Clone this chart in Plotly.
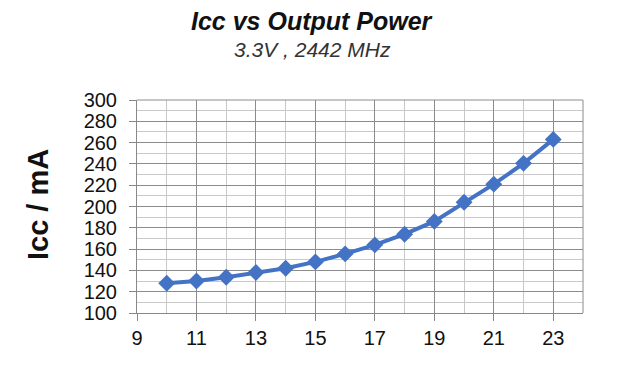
import plotly.graph_objects as go

power_dbm = [10, 11, 12, 13, 14, 15, 16, 17, 18, 19, 20, 21, 22, 23]
icc_ma = [128, 130, 133.5, 138, 142, 148, 155.5, 164, 174, 186, 204, 221, 240.5, 263]
x_ticks = [9, 11, 13, 15, 17, 19, 21, 23]
y_ticks = [100, 120, 140, 160, 180, 200, 220, 240, 260, 280, 300]

# page has an 8px body margin, so the figure is drawn 8px smaller
W, H = 615, 358
L, R, T, B = 129, 40, 92, 53
PW, PH = W - L - R, H - T - B


def px(x):
    return (x - L) / PW


def py(y):
    return (H - B - y) / PH


fig = go.Figure()
fig.add_trace(go.Scatter(
    x=power_dbm, y=icc_ma, mode="lines+markers",
    line=dict(color="#4472C4", width=4),
    marker=dict(symbol="diamond", size=13, color="#4472C4"),
    showlegend=False,
))

font = "Liberation Sans, Arial, sans-serif"
fig.update_layout(
    width=W, height=H,
    margin=dict(l=L, r=R, t=T, b=B),
    paper_bgcolor="white", plot_bgcolor="white",
    font=dict(family=font, color="#000"),
    xaxis=dict(
        range=[9, 24], tickvals=x_ticks, ticks="outside", ticklen=7,
        tickcolor="#888", tickfont=dict(size=20, color="#111"),
        showline=True, linecolor="#888", linewidth=1, mirror=False,
        showgrid=True, gridcolor="#8c8c8c", gridwidth=1,
        minor=dict(dtick=1, tick0=9, showgrid=True, gridcolor="#c8c8c8", gridwidth=1),
        zeroline=False,
    ),
    yaxis=dict(
        range=[100, 300], tickvals=y_ticks, ticks="outside", ticklen=7,
        ticklabelstandoff=8,
        tickcolor="#888", tickfont=dict(size=20, color="#111"),
        showline=True, linecolor="#888", linewidth=1,
        showgrid=True, gridcolor="#8c8c8c", gridwidth=1,
        minor=dict(dtick=10, tick0=100, showgrid=True, gridcolor="#c8c8c8", gridwidth=1),
        zeroline=False,
    ),
    shapes=[
        dict(type="line", xref="paper", yref="paper", x0=0, x1=1, y0=1, y1=1,
             line=dict(color="#8c8c8c", width=1)),
        dict(type="line", xref="paper", yref="paper", x0=1, x1=1, y0=0, y1=1,
             line=dict(color="#8c8c8c", width=1)),
    ],
    annotations=[
        dict(text="<b><i>Icc vs Output Power</i></b>", xref="paper", yref="paper",
             x=px(304), y=py(13),
             xanchor="center", yanchor="middle", showarrow=False,
             font=dict(size=25, family=font, color="#111")),
        dict(text="<i>3.3V , 2442 MHz</i>", xref="paper", yref="paper",
             x=px(304), y=py(42),
             xanchor="center", yanchor="middle", showarrow=False,
             font=dict(size=21, family=font, color="#333")),
        dict(text="<b>Icc / mA</b>", xref="paper", yref="paper",
             x=px(30), y=py(197),
             xanchor="center", yanchor="middle", textangle=-90, showarrow=False,
             font=dict(size=29, family=font, color="#111")),
        dict(text="<b>Output Power / dBm</b>", xref="paper", yref="paper",
             x=px(286), y=py(361),
             xanchor="center", yanchor="top", showarrow=False,
             font=dict(size=24, family=font, color="#111")),
    ],
)

fig.write_html("out.html")
